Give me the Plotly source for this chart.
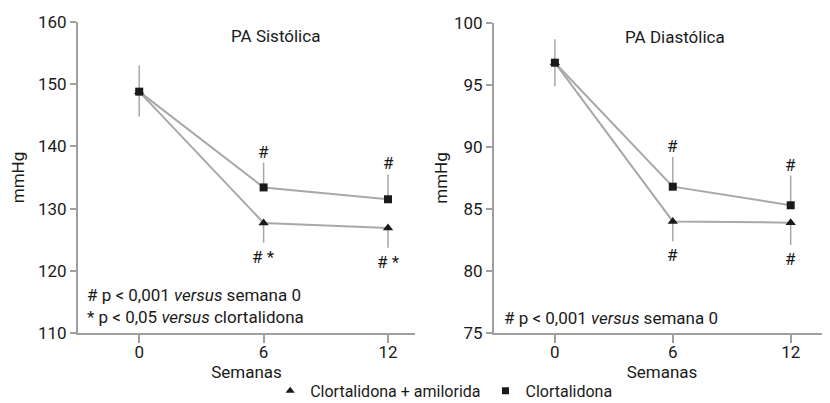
import plotly.graph_objects as go

weeks = [0, 6, 12]
tick_labels = ["0", "6", "12"]

# PA Sistólica
sys_clor = [148.8, 133.4, 131.5]
sys_clor_up = [4.2, 4.0, 4.0]
sys_clor_down = [4.0, 0, 0]
sys_amil = [148.8, 127.7, 126.9]
sys_amil_up = [0, 0, 0]
sys_amil_down = [0, 3.2, 3.2]
sys_clor_marks = ["", "#", "#"]
sys_amil_marks = ["", "# *", "# *"]

# PA Diastólica
dia_clor = [96.8, 86.8, 85.3]
dia_clor_up = [1.9, 2.4, 2.4]
dia_clor_down = [1.9, 0, 0]
dia_amil = [96.8, 84.0, 83.9]
dia_amil_up = [0, 0, 0]
dia_amil_down = [0, 1.6, 1.8]
dia_clor_marks = ["", "#", "#"]
dia_amil_marks = ["", "#", "#"]

FONT = "Roboto, Arial, sans-serif"
TXT = "#1a1a1a"
LINE = "#a8a8a8"
MARK = "#1a1a1a"
AXIS = "#a0a0a0"
FS = 17

fig = go.Figure()

def add_panel(xa, ya, clor, cu, cd, amil, au, ad):
    fig.add_trace(go.Scatter(
        x=weeks, y=amil, mode="lines+markers", xaxis=xa, yaxis=ya,
        line=dict(color=LINE, width=2),
        marker=dict(symbol="triangle-up", size=9, color=MARK),
        error_y=dict(type="data", symmetric=False, array=au, arrayminus=ad,
                     color=LINE, thickness=1.5, width=0),
        showlegend=False))
    fig.add_trace(go.Scatter(
        x=weeks, y=clor, mode="lines+markers", xaxis=xa, yaxis=ya,
        line=dict(color=LINE, width=2),
        marker=dict(symbol="square", size=8, color=MARK),
        error_y=dict(type="data", symmetric=False, array=cu, arrayminus=cd,
                     color=LINE, thickness=1.5, width=0),
        showlegend=False))

add_panel("x", "y", sys_clor, sys_clor_up, sys_clor_down, sys_amil, sys_amil_up, sys_amil_down)
add_panel("x2", "y2", dia_clor, dia_clor_up, dia_clor_down, dia_amil, dia_amil_up, dia_amil_down)

# legend-only traces
fig.add_trace(go.Scatter(x=[None], y=[None], mode="markers", name="Clortalidona + amilorida",
                         marker=dict(symbol="triangle-up", size=8, color=MARK)))
fig.add_trace(go.Scatter(x=[None], y=[None], mode="markers", name="Clortalidona",
                         marker=dict(symbol="square", size=7, color=MARK)))

tf = dict(size=FS, color=TXT, family=FONT)
ann = []
def marks(xr, yr, vals, up, lab, above):
    for xv, v, e, t in zip(weeks, vals, up, lab):
        if not t:
            continue
        if above:
            ann.append(dict(x=xv, y=v + e, xref=xr, yref=yr, text=t, showarrow=False,
                            yanchor="bottom", yshift=-1, font=tf))
        else:
            ann.append(dict(x=xv, y=v - e, xref=xr, yref=yr, text=t, showarrow=False,
                            yanchor="top", yshift=-2, font=tf))

marks("x", "y", sys_clor, sys_clor_up, sys_clor_marks, True)
marks("x", "y", sys_amil, sys_amil_down, sys_amil_marks, False)
marks("x2", "y2", dia_clor, dia_clor_up, dia_clor_marks, True)
marks("x2", "y2", dia_amil, dia_amil_down, dia_amil_marks, False)

ann.append(dict(x=0.585, y=0.955, xref="x domain", yref="y domain", text="PA Sistólica",
                showarrow=False, yanchor="middle", font=tf))
ann.append(dict(x=0.54, y=0.955, xref="x2 domain", yref="y2 domain", text="PA Diastólica",
                showarrow=False, yanchor="middle", font=tf))
ann.append(dict(x=0.02, y=0.088, xref="x domain", yref="y domain",
                text="# p &lt; 0,001 <i>versus</i> semana 0<br>* p &lt; 0,05 <i>versus</i> clortalidona",
                showarrow=False, xanchor="left", yanchor="middle", align="left", font=tf))
ann.append(dict(x=0.025, y=0.05, xref="x2 domain", yref="y2 domain",
                text="# p &lt; 0,001 <i>versus</i> semana 0",
                showarrow=False, xanchor="left", yanchor="middle", align="left", font=tf))

xcommon = dict(tickvals=weeks, ticktext=tick_labels, showline=True, linecolor=AXIS, linewidth=2,
               ticks="outside", ticklen=8, tickcolor=AXIS, tickwidth=2, showgrid=False,
               zeroline=False, tickfont=tf, automargin=False, ticklabelstandoff=-5,
               title=dict(text="Semanas", font=tf, standoff=0))
ycommon = dict(showline=True, linecolor=AXIS, linewidth=2, ticks="outside", ticklen=6,
               tickcolor=AXIS, tickwidth=2, showgrid=False, zeroline=False, tickfont=tf,
               automargin=False)

# page body has an 8px margin: figure is sized/positioned to compensate
fig.update_layout(
    width=822, height=395,
    margin=dict(l=0, r=0, t=0, b=0, autoexpand=False),
    paper_bgcolor="white", plot_bgcolor="white",
    font=dict(family=FONT, color=TXT, size=FS),
    showlegend=True,
    legend=dict(orientation="h", x=0.53, xanchor="center", y=-0.012, yanchor="bottom",
                font=dict(size=16, color=TXT, family=FONT), itemwidth=30, tracegroupgap=0,
                bgcolor="rgba(0,0,0,0)"),
    xaxis=dict(domain=[0.0852, 0.4951], range=[-2.95, 13.3], anchor="y", **xcommon),
    yaxis=dict(domain=[0.1772, 0.9646], range=[110, 160], dtick=10, anchor="x",
               title=dict(text="mmHg", font=tf, standoff=12), **ycommon),
    xaxis2=dict(domain=[0.5912, 1.0], range=[-3.1, 14.0], anchor="y2", **xcommon),
    yaxis2=dict(domain=[0.1772, 0.962], range=[75, 100], dtick=5, anchor="x2",
                title=dict(text="mmHg", font=tf, standoff=2), **ycommon),
    annotations=ann,
)

fig.write_html("out.html")
